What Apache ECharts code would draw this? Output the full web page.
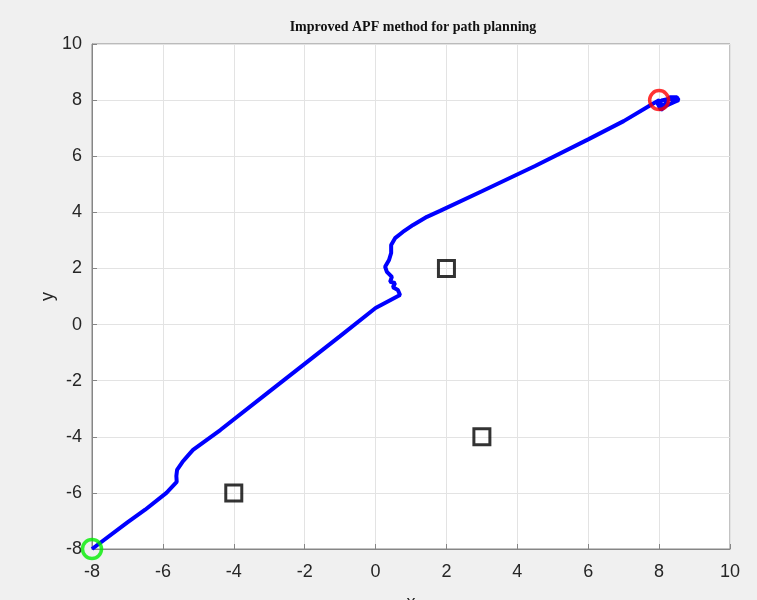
<!DOCTYPE html>
<html>
<head>
<meta charset="utf-8">
<script src="https://cdn.jsdelivr.net/npm/echarts@6/dist/echarts.min.js"></script>
<style>
  html, body { margin: 0; padding: 0; background: #f0f0f0; }
  #main { width: 757px; height: 600px; }
</style>
</head>
<body>
<div id="main"></div>
<script>
// path found by the planner (x, y)
var pathX = [-8, -7.0, -6.5, -5.9, -5.61, -5.62, -5.6, -5.45, -5.3, -5.15,
  -4.38, -3.0, -2.0, -1.0, 0, 0.69, 0.63, 0.49, 0.55, 0.41, 0.46, 0.32, 0.27,
  0.38, 0.44, 0.44, 0.55, 0.77, 1.06, 1.45, 1.82, 3.0, 4.5, 6.0, 7.0, 7.8,
  8.0, 8.1, 8.3, 8.5, 8.55, 8.4, 8.2, 8.05, 7.95, 8.1, 8.3, 8.45];
var pathY = [-8, -7.05, -6.6, -6.0, -5.61, -5.4, -5.18, -4.9, -4.68, -4.47,
  -3.76, -2.39, -1.40, -0.41, 0.59, 1.05, 1.23, 1.33, 1.48, 1.52, 1.70, 1.88, 2.06,
  2.30, 2.55, 2.84, 3.08, 3.30, 3.55, 3.84, 4.05, 4.75, 5.65, 6.6, 7.25, 7.85,
  8.0, 7.75, 8.1, 8.1, 8.0, 7.92, 7.8, 7.65, 7.9, 8.0, 8.05, 8.0];
var obstaclesX = [2, 3, -4];
var obstaclesY = [2, -4, -6];
var startPt = [-8, -8];
var goalPt = [8, 8];
var ticks = [-8, -6, -4, -2, 0, 2, 4, 6, 8, 10];

var pathData = [];
for (var i = 0; i < pathX.length; i++) {
  pathData.push([pathX[i], pathY[i]]);
}
var obsData = [];
for (var j = 0; j < obstaclesX.length; j++) {
  obsData.push([obstaclesX[j], obstaclesY[j]]);
}

var axisCommon = {
  type: "value",
  min: ticks[0],
  max: ticks[ticks.length - 1],
  interval: 2,
  nameMoveOverlap: false,
  axisLine: { show: true, onZero: false, lineStyle: { color: "#868686", width: 1 } },
  axisTick: { show: true, inside: true, length: 5, lineStyle: { color: "#868686" } },
  splitLine: { show: true, lineStyle: { color: "#e3e3e3", width: 1 } },
  axisLabel: { color: "#262626", fontSize: 18, fontFamily: "Liberation Sans, Arial, sans-serif" },
  nameTextStyle: { color: "#262626", fontSize: 18, fontFamily: "Liberation Sans, Arial, sans-serif" },
};

var myChart = echarts.init(document.getElementById("main"));
var option = {
  backgroundColor: "#f0f0f0",
  animation: false,
  title: {
    text: "Improved APF method for path planning",
    left: 408,
    textAlign: "center",
    top: 15,
    textStyle: { fontFamily: "Liberation Serif, Times New Roman, serif", fontWeight: "bold", fontSize: 14, color: "#111" },
  },
  grid: {
    left: 92, right: 27, top: 44, bottom: 51,
    outerBoundsMode: "none",
    show: true, backgroundColor: "#ffffff", borderColor: "#868686", borderWidth: 1,
  },
  xAxis: Object.assign({}, axisCommon, {
    name: "x", nameLocation: "middle", nameGap: 45,
    axisLabel: Object.assign({}, axisCommon.axisLabel, { margin: 14 }),
  }),
  yAxis: Object.assign({}, axisCommon, {
    name: "y", nameLocation: "middle", nameGap: 35,
    axisLabel: Object.assign({}, axisCommon.axisLabel, { margin: 10 }),
  }),
  series: [
    {
      type: "line",
      data: pathData,
      showSymbol: false,
      smooth: false,
      lineStyle: { color: "#0000ff", width: 4 },
      z: 3,
    },
    {
      type: "scatter",
      data: obsData,
      symbol: "rect",
      symbolSize: 16,
      itemStyle: { color: "rgba(0,0,0,0)", borderColor: "#000", borderWidth: 3 },
      z: 4,
    },
    {
      type: "scatter",
      data: [startPt],
      symbol: "circle",
      symbolSize: 19,
      itemStyle: { color: "rgba(0,0,0,0)", borderColor: "#00ee00", borderWidth: 3.5 },
      z: 5,
    },
    {
      type: "scatter",
      data: [goalPt],
      symbol: "circle",
      symbolSize: 19,
      itemStyle: { color: "rgba(0,0,0,0)", borderColor: "#ff0000", borderWidth: 3.5 },
      z: 5,
    },
  ],
};
myChart.setOption(option);
</script>
</body>
</html>
